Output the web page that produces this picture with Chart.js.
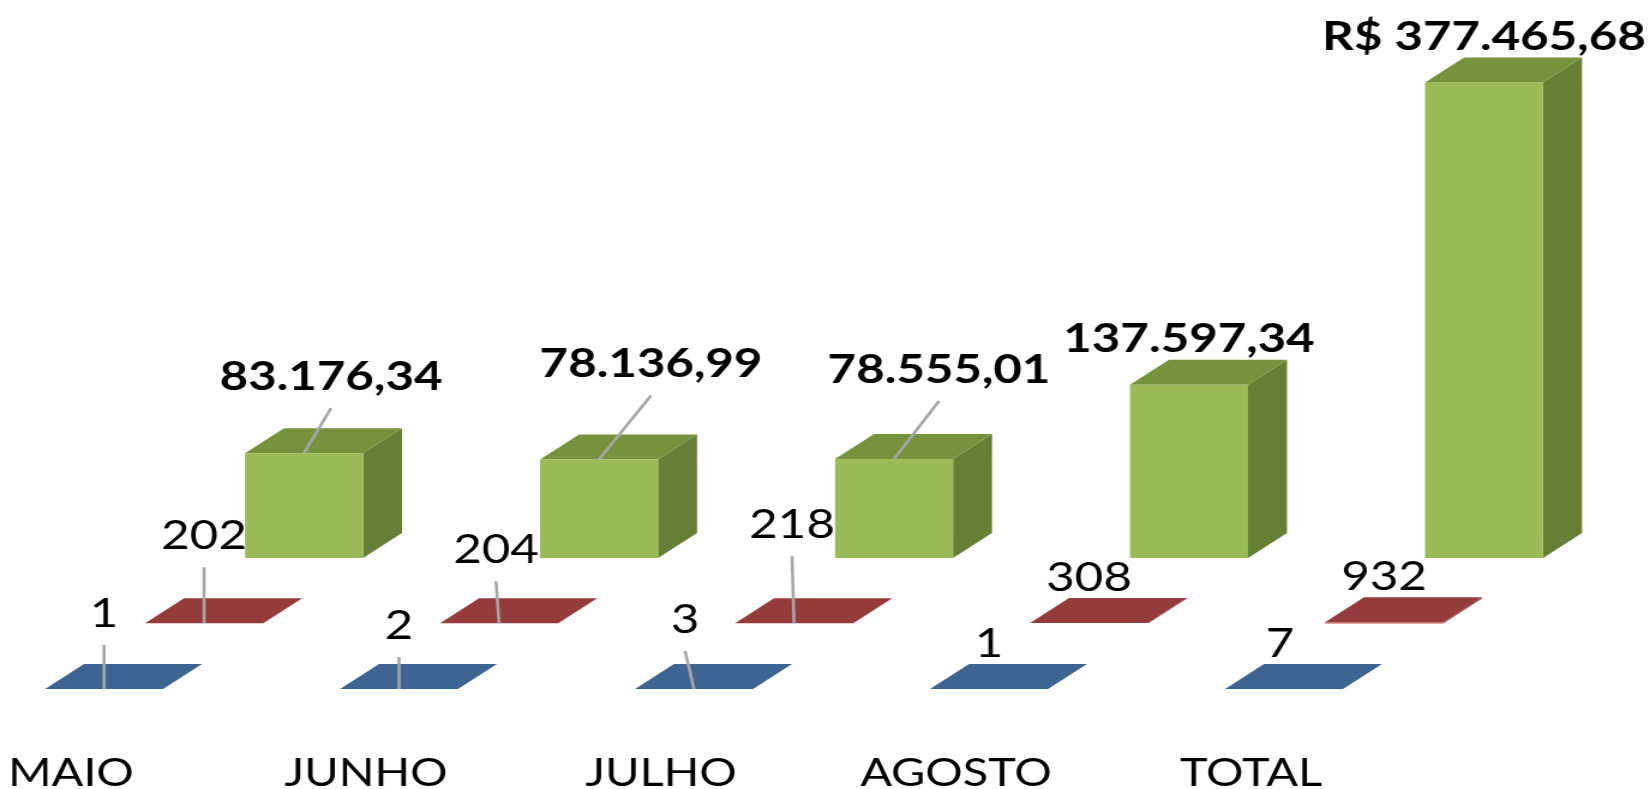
<!DOCTYPE html>
<html>
<head>
<meta charset="utf-8">
<script src="https://cdn.jsdelivr.net/npm/chart.js@4.4.1/dist/chart.umd.min.js"></script>
<style>
  html, body { margin: 0; padding: 0; background: #fff; }
</style>
</head>
<body>
<!-- the reference is stretched sideways, so the canvas is drawn narrow and widened by css -->
<canvas id="chart" width="1375" height="789" style="display:block;width:1650px;height:789px"></canvas>
<script>
const categories = ['MAIO', 'JUNHO', 'JULHO', 'AGOSTO', 'TOTAL'];
const processos = [1, 2, 3, 1, 7];
const quantidades = [202, 204, 218, 308, 932];
const valores = [83176.34, 78136.99, 78555.01, 137597.34, 377465.68];

// manual nudges of the data labels (reference px), per row: blue, red, green
const labelShift = [
  [[0, -30], [0, -18], [-9, -24], [0, 0], [-4, 0]],
  [[0, -42], [-3, -28], [-2, -53], [0, 0], [0, 0]],
  [[27, -31], [52, -50], [45, -44], [0, 0], [0, 0]]
];

const SX = 1650 / 1375;
const ROW_DX = 100 / SX, ROW_DY = 65.5;     // shift between the depth rows
const DEPTH_DX = 39 / SX, DEPTH_DY = 25;    // depth of one bar
const faces = [
  { front: '#4F81BD', top: '#3E6491', side: '#385D8A' },
  { front: '#C0504D', top: '#943C3B', side: '#8C3836' },
  { front: '#9BBB59', top: '#76923C', side: '#657F35' }
];

function brl(v) {
  const [int, dec] = v.toFixed(2).split('.');
  return int.replace(/\B(?=(\d{3})+(?!\d))/g, '.') + ',' + dec;
}

function poly(ctx, color, pts) {
  ctx.beginPath();
  ctx.moveTo(pts[0][0], pts[0][1]);
  for (let k = 1; k < pts.length; k++) ctx.lineTo(pts[k][0], pts[k][1]);
  ctx.closePath();
  ctx.fillStyle = color;
  ctx.fill();
}

const bars3d = {
  id: 'bars3d',
  afterDatasetsDraw(chart) {
    const ctx = chart.ctx;
    const n = chart.data.datasets.length;
    const anchors = [];
    ctx.save();
    // back row first
    for (let d = n - 1; d >= 0; d--) {
      const f = faces[d];
      anchors[d] = [];
      chart.getDatasetMeta(d).data.forEach((el, i) => {
        const { x, y, base, width } = el.getProps(['x', 'y', 'base', 'width'], true);
        const ox = d * ROW_DX, oy = -d * ROW_DY;
        const l = x - width / 2 + ox, r = x + width / 2 + ox;
        const t = y + oy, b = base + oy;
        poly(ctx, f.side, [[r, t], [r + DEPTH_DX, t - DEPTH_DY], [r + DEPTH_DX, b - DEPTH_DY], [r, b]]);
        poly(ctx, f.top, [[l, t], [l + DEPTH_DX, t - DEPTH_DY], [r + DEPTH_DX, t - DEPTH_DY], [r, t]]);
        if (b - t > 0.5) {
          ctx.fillStyle = f.front;
          ctx.fillRect(l, t, r - l, b - t);
        }
        anchors[d][i] = [x + ox, t];
      });
    }
    // data labels and leader lines
    ctx.textAlign = 'center';
    ctx.textBaseline = 'alphabetic';
    for (let d = 0; d < n; d++) {
      const data = chart.data.datasets[d].data;
      anchors[d].forEach(([ax, ay], i) => {
        const s = labelShift[d][i];
        const lx = ax + s[0] / SX;
        const ly = ay - 47 + s[1];
        if (s[1] < -10) {
          ctx.strokeStyle = '#A6A6A6';
          ctx.lineWidth = 2.6;
          ctx.beginPath();
          ctx.moveTo(lx, ly + 33);
          ctx.lineTo(ax, ay);
          ctx.stroke();
        }
        let text = String(data[i]);
        if (d === 2) text = (i === data.length - 1 ? 'R$ ' : '') + brl(data[i]);
        const size = 41;
        ctx.font = (d === 2 ? 'bold ' : '') + size + 'px Lato';
        ctx.fillStyle = '#000';
        ctx.fillText(text, lx, ly + 0.358 * size);
      });
    }
    ctx.restore();
  }
};

Chart.defaults.font.family = 'Lato';

const hidden = 'rgba(0,0,0,0)';

new Chart(document.getElementById('chart'), {
  type: 'bar',
  data: {
    labels: categories,
    datasets: [
      { label: 'Processos', data: processos, backgroundColor: hidden, borderColor: hidden },
      { label: 'Quantidade', data: quantidades, backgroundColor: hidden, borderColor: hidden },
      { label: 'Valor', data: valores, backgroundColor: hidden, borderColor: hidden }
    ]
  },
  options: {
    responsive: false,
    animation: false,
    devicePixelRatio: 1,
    layout: { padding: { left: 104 / SX, right: 1375 - 1284 / SX, top: 8.6, bottom: 0 } },
    datasets: {
      bar: {
        grouped: false,
        categoryPercentage: 0.4,
        barPercentage: 1,
        borderWidth: 0
      }
    },
    plugins: { legend: { display: false }, tooltip: { enabled: false }, colors: { enabled: false } },
    scales: {
      x: {
        type: 'category',
        offset: false,
        grid: { display: false },
        border: { display: false },
        ticks: {
          color: '#000',
          // tall line height pushes the labels down without adding side padding
          font: { family: 'Lato', size: 39, lineHeight: 3.9 },
          padding: 0,
          labelOffset: -27.5,
          maxRotation: 0,
          autoSkip: false
        },
        afterFit(scale) { scale.height = 100; }
      },
      y: { display: false, min: 0, max: 540000 }
    }
  },
  plugins: [bars3d]
});
</script>
</body>
</html>
